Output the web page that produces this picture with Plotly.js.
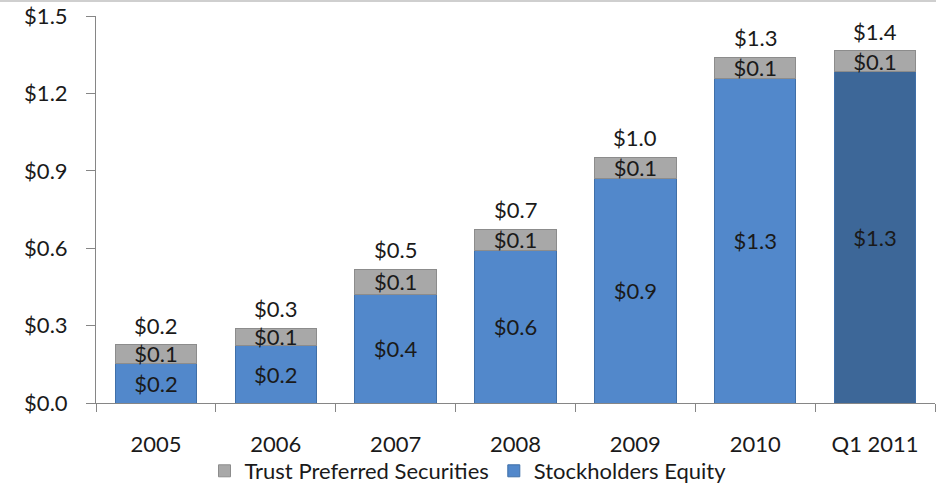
<!DOCTYPE html>
<html><head><meta charset="utf-8">
<script src="https://cdn.plot.ly/plotly-3.0.1.min.js"></script>
<style>html,body{margin:0;padding:0;background:#fff;}#topline{position:absolute;left:0;top:0;width:936px;height:2px;background:#cfcfcf;z-index:5;}</style>
</head><body>
<div id="topline"></div>
<div id="chart" style="width:936px;height:486px;"></div>
<script>
const categories = ["2005","2006","2007","2008","2009","2010","Q1 2011"];
const stockholdersEquity = [0.155,0.222,0.422,0.593,0.871,1.258,1.284];
const trustPreferred = [0.070,0.068,0.097,0.081,0.081,0.082,0.082];
const yTicks = [0,0.3,0.6,0.9,1.2,1.5];

const totals = categories.map((c,i)=>stockholdersEquity[i]+trustPreferred[i]);
const FONT = 'Lato,"Open Sans",sans-serif';
const equityColors = categories.map((c,i)=> i===categories.length-1 ? '#3d6798' : '#5288cb');

const traces = [
 {type:'bar', name:'Stockholders Equity', x:categories, y:stockholdersEquity,
  marker:{color:equityColors, line:{color:'#3f6fa8', width:1}},
  texttemplate:'$%{y:.1f}', textposition:'inside', insidetextanchor:'middle', textangle:0,
  constraintext:'none', textfont:{family:FONT,size:22,color:'#1a1a1a'}, hoverinfo:'skip'},
 {type:'bar', name:'Trust Preferred Securities', x:categories, y:trustPreferred,
  marker:{color:'#a8a8a8', line:{color:'#8c8c8c', width:1}},
  texttemplate:'$%{y:.1f}', textposition:'inside', insidetextanchor:'middle', textangle:0,
  constraintext:'none', textfont:{family:FONT,size:22,color:'#1a1a1a'}, hoverinfo:'skip'}
];

const annotations = categories.map((c,i)=>({
 x:i, y:totals[i], xref:'x', yref:'y', text:'$'+totals[i].toFixed(1),
 showarrow:false, yanchor:'bottom', yshift:4,
 font:{family:FONT,size:22,color:'#1a1a1a'}
}));

const layout = {
 width:936, height:486,
 margin:{l:96, r:1, t:16, b:83},
 paper_bgcolor:'#fff', plot_bgcolor:'#fff',
 barmode:'stack', bargap:0.32,
 font:{family:FONT, size:22, color:'#1a1a1a'},
 showlegend:true,
 annotations: annotations,
 legend:{orientation:'h', x:0.5, xanchor:'center', xref:'container', y:(486-471)/486, yref:'container', yanchor:'middle',
   bgcolor:'rgba(0,0,0,0)', traceorder:'reversed', font:{family:FONT,size:22,color:'#1a1a1a'}, tracegroupgap:0, itemwidth:30},
 xaxis:{type:'category', range:[-0.5,6.5], showline:true, linecolor:'#868686', linewidth:1,
   ticks:'outside', tickson:'boundaries', ticklen:8, tickcolor:'#868686',
   ticklabelstandoff:22, tickfont:{family:FONT,size:22,color:'#1a1a1a'}, showgrid:false, zeroline:false, fixedrange:true},
 yaxis:{range:[0,1.5], tickvals:yTicks, ticktext:yTicks.map(v=>'$'+v.toFixed(1)),
   showline:true, linecolor:'#868686', linewidth:1, ticks:'outside', ticklen:9, tickcolor:'#868686',
   ticklabelstandoff:14, tickfont:{family:FONT,size:22,color:'#1a1a1a'}, showgrid:false, zeroline:false, fixedrange:true}
};
Plotly.newPlot('chart', traces, layout, {displayModeBar:false, staticPlot:true});
</script>
</body></html>
